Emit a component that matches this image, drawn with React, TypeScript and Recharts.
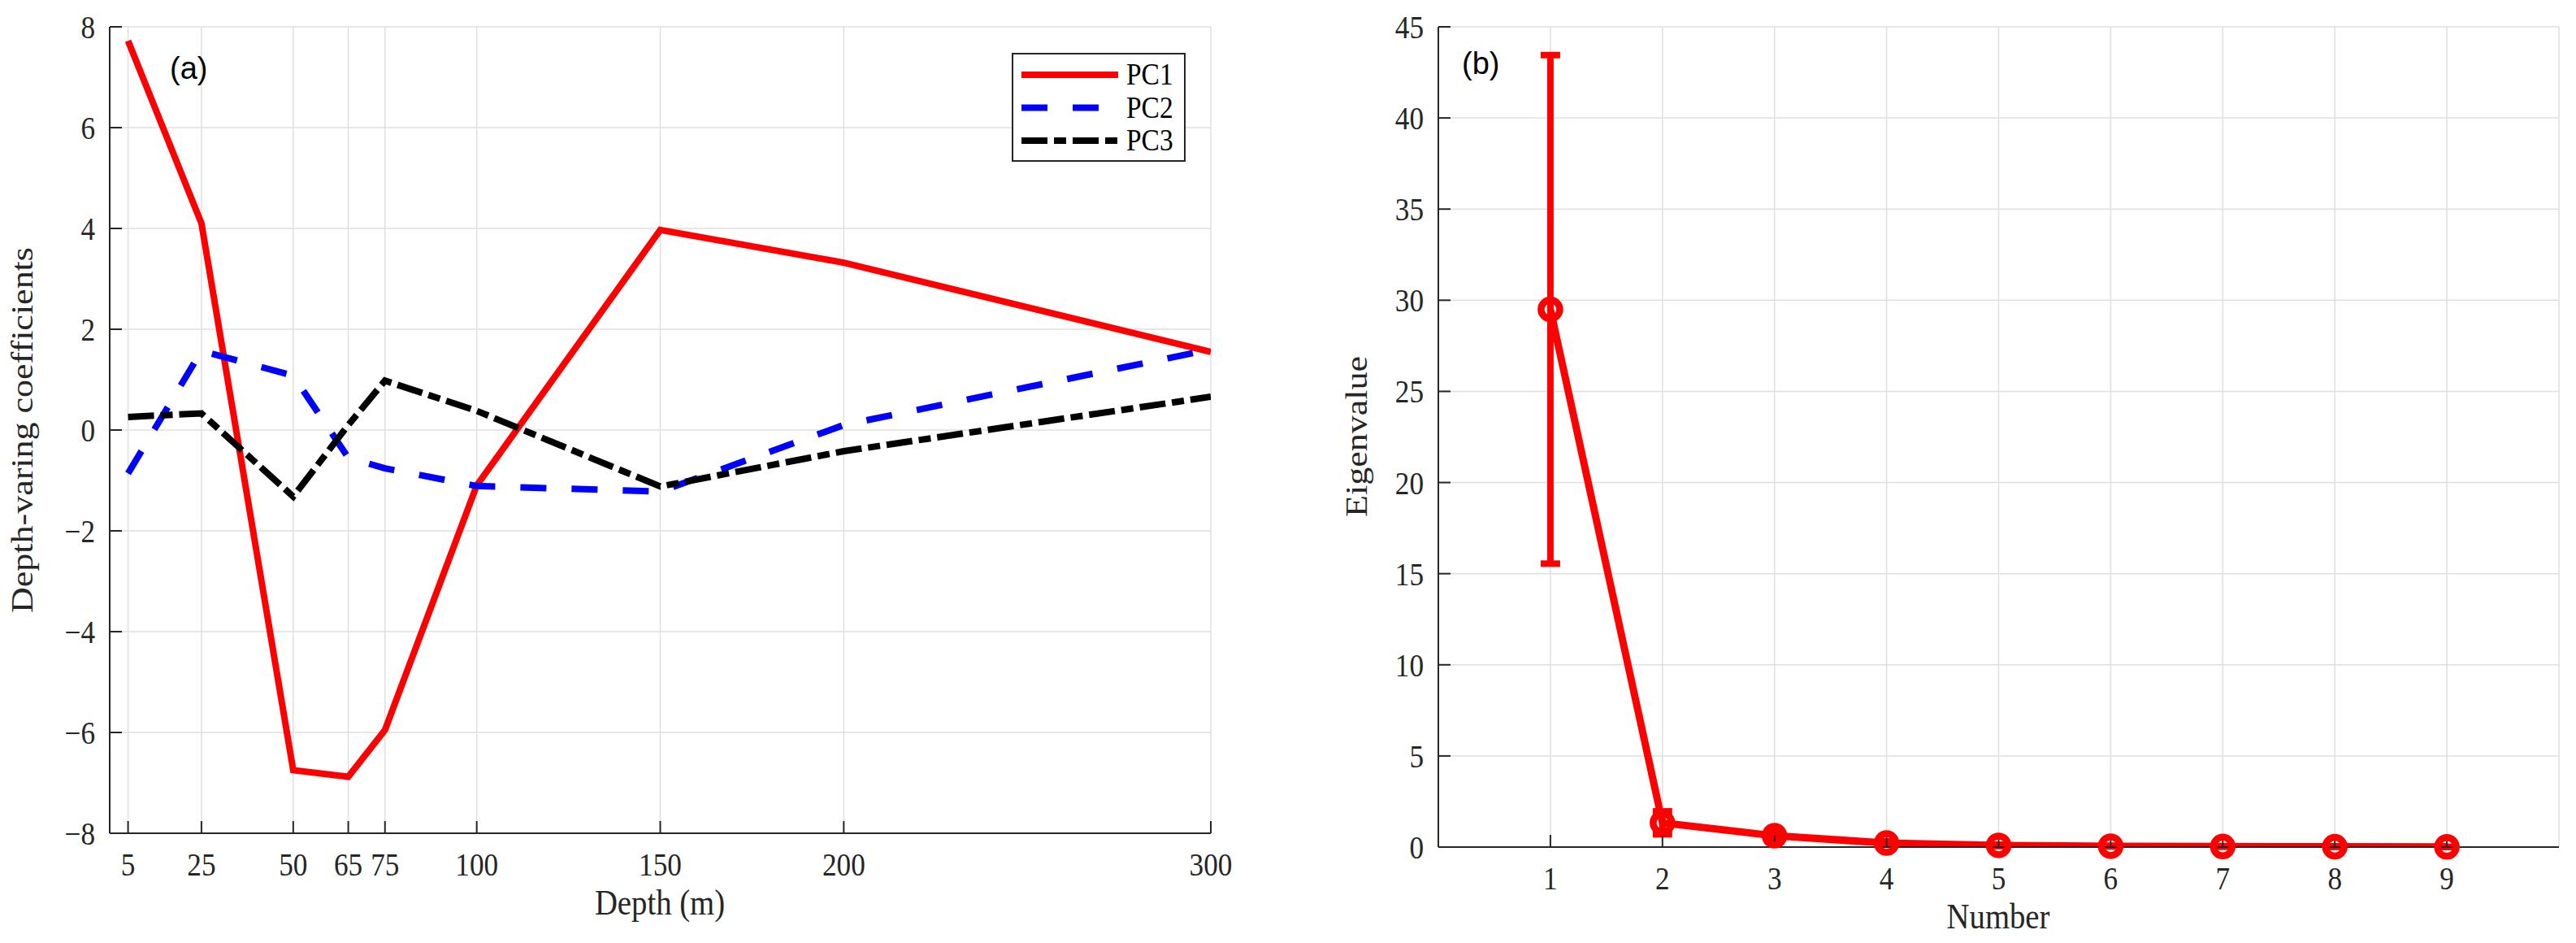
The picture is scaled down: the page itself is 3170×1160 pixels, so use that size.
import { LineChart, Line, XAxis, YAxis, CartesianGrid, ErrorBar, Legend } from "recharts";

const SERIF = "'Liberation Serif', 'Times New Roman', serif";
const SANS = "'Liberation Sans', Arial, sans-serif";
const INK = "#262626";
const GRID = "#dfdfdf";
const SQUEEZE = 0.88; // the original figure is a bit narrower than its fonts

// panel (a): depth-varying coefficients
const DEPTHS = [5, 25, 50, 65, 75, 100, 150, 200, 300];
const PC1 = [7.72, 4.1, -6.75, -6.88, -5.95, -1.1, 3.97, 3.32, 1.55];
const PC2 = [-0.86, 1.57, 1.08, -0.55, -0.76, -1.11, -1.22, 0.1, 1.6];
const PC3 = [0.26, 0.33, -1.32, 0.1, 0.98, 0.38, -1.12, -0.42, 0.66];
const DEPTH_TICKS = [5, 25, 50, 65, 75, 100, 150, 200, 300];
const COEF_TICKS = [-8, -6, -4, -2, 0, 2, 4, 6, 8];

// panel (b): eigenvalues with error bars
const NUMBERS = [1, 2, 3, 4, 5, 6, 7, 8, 9];
const EIGENVALUES = [29.5, 1.33, 0.62, 0.22, 0.09, 0.05, 0.03, 0.02, 0.01];
const EIGEN_ERRORS = [13.95, 0.63, 0.29, 0.1, 0.04, 0.02, 0.01, 0.01, 0.005];
const NUMBER_TICKS = [1, 2, 3, 4, 5, 6, 7, 8, 9];
const EIGEN_TICKS = [0, 5, 10, 15, 20, 25, 30, 35, 40, 45];

const SERIES = [
  { key: "pc1", name: "PC1", color: "#ff0000", dash: undefined as string | undefined },
  { key: "pc2", name: "PC2", color: "#0000ff", dash: "32 31" },
  { key: "pc3", name: "PC3", color: "#000000", dash: "32 8 15 8" },
];

const coefData = DEPTHS.map((depth, i) => ({ depth, pc1: PC1[i], pc2: PC2[i], pc3: PC3[i] }));
const eigenData = NUMBERS.map((n, i) => ({ n, eig: EIGENVALUES[i], err: EIGEN_ERRORS[i] }));

const fmt = (v: number) => (v < 0 ? `\u2212${Math.abs(v)}` : `${v}`);

const BottomTick = ({ x, y, payload }: any) => (
  <g transform={`translate(${x},${y + 52}) scale(${SQUEEZE},1)`}>
    <text textAnchor="middle" fontFamily={SERIF} fontSize={40} fill={INK}>{fmt(payload.value)}</text>
  </g>
);

const LeftTick = ({ x, y, payload }: any) => (
  <g transform={`translate(${x - 18},${y + 14}) scale(${SQUEEZE},1)`}>
    <text textAnchor="end" fontFamily={SERIF} fontSize={40} fill={INK}>{fmt(payload.value)}</text>
  </g>
);

const axisLine = { stroke: INK, strokeWidth: 2 };

const renderLegend = ({ payload }: any) => (
  <svg width={214} height={134} style={{ display: "block" }}>
    <rect x={1} y={1} width={212} height={132} fill="#fff" stroke={INK} strokeWidth={2} />
    {(payload ?? []).map((entry: any, i: number) => {
      const s = SERIES.find((d) => d.name === entry.value) ?? SERIES[i];
      const cy = 27 + i * 40.5;
      return (
        <g key={s.key}>
          <line x1={12} x2={131} y1={cy} y2={cy} stroke={s.color} strokeWidth={8} strokeDasharray={s.dash} />
          <g transform={`translate(141,${cy + 12}) scale(${SQUEEZE},1)`}>
            <text fontFamily={SERIF} fontSize={38} fill="#000">{s.name}</text>
          </g>
        </g>
      );
    })}
  </svg>
);

const Titles = ({ w, h, tag, tagX, tagY, yLabel, yX, yY, xLabel, xX, xY }: any) => (
  <svg width={w} height={h} style={{ position: "absolute", left: 0, top: 0, pointerEvents: "none" }}>
    <text x={tagX} y={tagY} fontFamily={SANS} fontSize={38} fill="#000">{tag}</text>
    <g transform={`translate(${yX},${yY}) scale(${SQUEEZE},1) rotate(-90)`}>
      <text textAnchor="middle" fontFamily={SERIF} fontSize={44} fill={INK}>{yLabel}</text>
    </g>
    <g transform={`translate(${xX},${xY}) scale(${SQUEEZE},1)`}>
      <text textAnchor="middle" fontFamily={SERIF} fontSize={44} fill={INK}>{xLabel}</text>
    </g>
  </svg>
);

function CoefficientPanel() {
  return (
    <div style={{ position: "absolute", left: 0, top: 0, width: 1540, height: 1160 }}>
      <LineChart width={1540} height={1160} data={coefData} margin={{ top: 33, right: 50, bottom: 35, left: 0 }}>
        <CartesianGrid xAxisId="b" yAxisId="l" stroke={GRID} strokeWidth={1.5} />
        <XAxis xAxisId="b" dataKey="depth" type="number" domain={[0, 300]} ticks={DEPTH_TICKS} interval={0}
          allowDataOverflow height={100} tickSize={-15} tickMargin={15} tick={<BottomTick />}
          axisLine={axisLine} tickLine={axisLine} />
        <XAxis xAxisId="t" orientation="top" type="number" domain={[0, 300]} ticks={DEPTH_TICKS} interval={0}
          allowDataOverflow height={0} tickSize={-15} tick={false} axisLine={axisLine} tickLine={axisLine} />
        <YAxis yAxisId="l" type="number" domain={[-8, 8]} ticks={COEF_TICKS} interval={0} allowDataOverflow
          width={135} tickSize={-15} tickMargin={15} tick={<LeftTick />} axisLine={axisLine} tickLine={axisLine} />
        <YAxis yAxisId="r" orientation="right" type="number" domain={[-8, 8]} ticks={COEF_TICKS} interval={0}
          allowDataOverflow width={0} tickSize={-15} tick={false} axisLine={axisLine} tickLine={axisLine} />
        {SERIES.map((s) => (
          <Line key={s.key} xAxisId="b" yAxisId="l" type="linear" dataKey={s.key} name={s.name} stroke={s.color}
            strokeWidth={8} strokeDasharray={s.dash} dot={false} activeDot={false} isAnimationActive={false} />
        ))}
        <Legend layout="vertical" align="center" verticalAlign="middle" content={renderLegend}
          wrapperStyle={{ left: 1245, top: 65, width: 214, height: 134 }} />
      </LineChart>
      <Titles w={1540} h={1160} tag="(a)" tagX={209} tagY={97}
        yLabel="Depth-varing coefficients" yX={40} yY={529}
        xLabel="Depth (m)" xX={812} xY={1125} />
    </div>
  );
}

function EigenPanel() {
  return (
    <div style={{ position: "absolute", left: 1540, top: 0, width: 1620, height: 1160 }}>
      <LineChart width={1620} height={1160} data={eigenData} margin={{ top: 33, right: 11, bottom: 18, left: 0 }}>
        <CartesianGrid xAxisId="b" yAxisId="l" stroke={GRID} strokeWidth={1.5} />
        <XAxis xAxisId="b" dataKey="n" type="number" domain={[0, 10]} ticks={NUMBER_TICKS} interval={0}
          allowDataOverflow height={100} tickSize={-15} tickMargin={15} tick={<BottomTick />}
          axisLine={axisLine} tickLine={axisLine} />
        <XAxis xAxisId="t" orientation="top" type="number" domain={[0, 10]} ticks={NUMBER_TICKS} interval={0}
          allowDataOverflow height={0} tickSize={-15} tick={false} axisLine={axisLine} tickLine={axisLine} />
        <YAxis yAxisId="l" type="number" domain={[0, 45]} ticks={EIGEN_TICKS} interval={0} allowDataOverflow
          width={230} tickSize={-15} tickMargin={15} tick={<LeftTick />} axisLine={axisLine} tickLine={axisLine} />
        <YAxis yAxisId="r" orientation="right" type="number" domain={[0, 45]} ticks={EIGEN_TICKS} interval={0}
          allowDataOverflow width={0} tickSize={-15} tick={false} axisLine={axisLine} tickLine={axisLine} />
        <Line xAxisId="b" yAxisId="l" type="linear" dataKey="eig" stroke="#ff0000" strokeWidth={9}
          dot={{ r: 11.5, stroke: "#ff0000", strokeWidth: 8.5, fill: "none", clipDot: false }}
          activeDot={false} isAnimationActive={false}>
          <ErrorBar dataKey="err" direction="y" width={12} stroke="#ff0000" strokeWidth={8} isAnimationActive={false} />
        </Line>
      </LineChart>
      <Titles w={1620} h={1160} tag="(b)" tagX={259} tagY={91}
        yLabel="Eigenvalue" yX={142} yY={537}
        xLabel="Number" xX={919} xY={1142} />
    </div>
  );
}

export default function App() {
  return (
    <div style={{ position: "absolute", left: 0, top: 0, width: 3170, height: 1160, background: "#fff" }}>
      <CoefficientPanel />
      <EigenPanel />
    </div>
  );
}
